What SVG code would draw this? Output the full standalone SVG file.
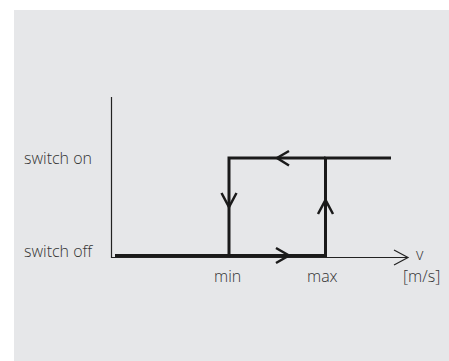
<svg xmlns="http://www.w3.org/2000/svg" width="449" height="361" viewBox="0 0 449 361">
<style>
.lbl{font-family:"Open Sans","Noto Sans","Liberation Sans",sans-serif;font-size:16px;font-weight:300;fill:#333}
.axis{stroke:#222;stroke-width:1.2;fill:none}
.curve{stroke:#1a1a1a;stroke-width:3;fill:none}
.chev{stroke:#1a1a1a;stroke-width:2.5;fill:none}
</style>
<rect x="14" y="10" width="435" height="351" fill="#e6e7e9"/>
<g id="axes">
<path class="axis" d="M111.5,97 V257.5 H407"/>
<path class="axis" d="M394,250 L408,257.5 L394,265"/>
</g>
<g id="connectors">
<path class="curve" d="M115,255.5 H325.5 V158 H391"/>
<path class="curve" d="M229,255.5 V158 H325.5"/>
<path class="chev" d="M289,151 L277,158 L289,165.5"/>
<path class="chev" d="M221.5,193 L229,207 L236.5,193"/>
<path class="chev" d="M318,214 L325.5,200 L333,214"/>
<path class="chev" d="M276,248 L289,255.5 L276,263"/>
</g>
<g id="labels">
<text class="lbl" x="24" y="164">switch on</text>
<text class="lbl" x="24" y="257">switch off</text>
<text class="lbl" x="214" y="282">min</text>
<text class="lbl" x="307" y="282">max</text>
<text class="lbl" x="416" y="260">v</text>
<text class="lbl" x="403" y="282">[m/s]</text>
</g>
</svg>
